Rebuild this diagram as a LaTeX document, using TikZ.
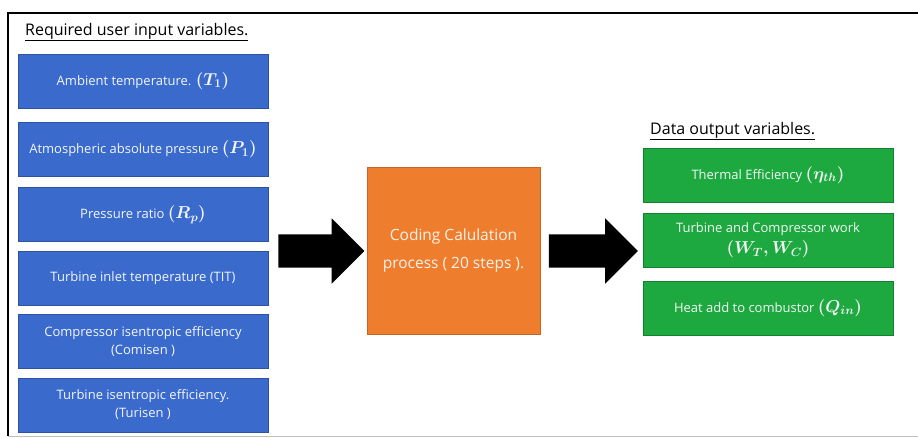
\documentclass[tikz,border=0pt]{standalone}
\usepackage{fontspec}
\setmainfont{Open Sans}
\usetikzlibrary{shapes.arrows}
\definecolor{inblue}{RGB}{58,106,204}
\definecolor{inblueedge}{RGB}{44,82,160}
\definecolor{outgreen}{RGB}{30,168,64}
\definecolor{outgreenedge}{RGB}{22,128,48}
\definecolor{procorange}{RGB}{238,125,46}
\definecolor{procorangeedge}{RGB}{200,100,36}
\tikzset{
  inbox/.style={draw=inblueedge, line width=0.8pt, fill=inblue, text=white!94!inblue,
    minimum width=250pt, minimum height=54pt, inner sep=2pt, align=center,
    font=\fontsize{13}{18}\selectfont},
  outbox/.style={draw=outgreenedge, line width=0.8pt, fill=outgreen, text=white!94!outgreen,
    minimum width=250pt, minimum height=54pt, inner sep=2pt, align=center,
    font=\fontsize{13}{18}\selectfont},
  procbox/.style={draw=procorangeedge, line width=0.8pt, fill=procorange, text=white!90!procorange,
    minimum width=173pt, minimum height=167pt, align=center,
    font=\fontsize{15.5}{28}\selectfont},
  blockarrow/.style={single arrow, fill=black, draw=none, inner xsep=0pt, inner ysep=16.5pt,
    single arrow head extend=16pt, single arrow tip angle=90,
    minimum width=65pt},
  heading/.style={anchor=west, inner sep=0pt, font=\fontsize{16}{18}\selectfont}
}
\newcommand{\mv}[1]{{\fontsize{17}{19}\selectfont\boldmath$#1$}}
\begin{document}
\begin{tikzpicture}[x=1pt, y=-1pt]
  \useasboundingbox (0,0) rectangle (918,437);
  \fill[white] (0,0) rectangle (918,437);
  % outer frame
  \draw[line width=2pt] (8,436) -- (8,13) -- (918,13);
  \draw[black!25, line width=0.8pt] (8,436.5) -- (918,436.5);

  % inputs
  \node[heading] (intitle) at (25,32) {\underline{Required user input variables.}};
  \node[inbox] (in1) at (143,81)    {Ambient temperature. \mv{(T_1)}};
  \node[inbox] (in2) at (143,149.5) {Atmospheric absolute pressure \mv{(P_1)}};
  \node[inbox] (in3) at (143,214.5) {Pressure ratio \mv{(R_p)}};
  \node[inbox] (in4) at (143,278)   {Turbine inlet temperature (TIT)};
  \node[inbox] (in5) at (143,341.5) {Compressor isentropic efficiency\\(Comisen )};
  \node[inbox] (in6) at (143,405)   {Turbine isentropic efficiency.\\(Turisen )};

  % process
  \node[procbox] (proc) at (453.5,250.5) {Coding Calulation\\process ( 20 steps ).};

  % outputs
  \node[heading] (outtitle) at (650,131) {\underline{Data output variables.}};
  \node[outbox] (out1) at (768,175)   {Thermal Efficiency \mv{(\eta_{th})}};
  \node[outbox] (out2) at (768,240.5) {Turbine and Compressor work\\[3pt]\mv{(W_T, W_C)}};
  \node[outbox] (out3) at (768,308)   {Heat add to combustor \mv{(Q_{in})}};

  % flow arrows
  \node[blockarrow, minimum height=86pt] (arr1) at (313,251) {};
  \node[blockarrow, minimum height=89pt] (arr2) at (585,251) {};
\end{tikzpicture}
\end{document}
